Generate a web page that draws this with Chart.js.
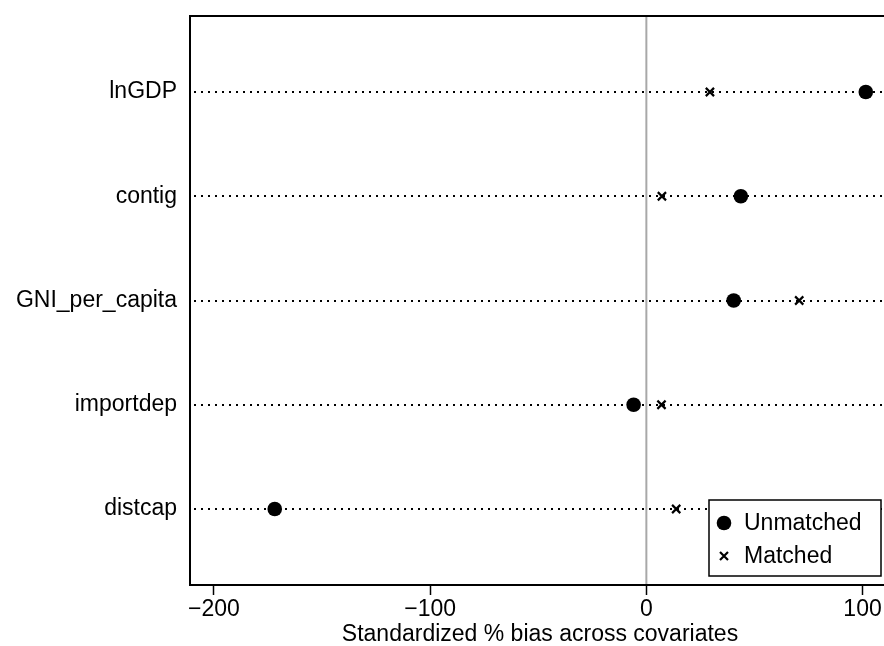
<!DOCTYPE html>
<html>
<head>
<meta charset="utf-8">
<script src="https://cdn.jsdelivr.net/npm/chart.js@4"></script>
<style>
  html, body { margin: 0; padding: 0; background: #fff; overflow: hidden; }
  #wrap { width: 884px; height: 646px; position: relative; overflow: hidden; }
  #biasChart { position: absolute; left: 0; top: 0; }
</style>
</head>
<body>
<div id="wrap"><canvas id="biasChart" width="892" height="646"></canvas></div>
<script>
// covariates, top to bottom
var covariates = ['lnGDP', 'contig', 'GNI_per_capita', 'importdep', 'distcap'];
// standardized % bias
var unmatched = [101.5, 43.7, 40.4, -5.9, -171.9];
var matched = [29.4, 7.2, 70.7, 7.0, 13.8];
var xTicks = [-200, -100, 0, 100];
var seriesNames = ['Unmatched', 'Matched'];
var axisTitle = 'Standardized % bias across covariates';

var FONT = '"Liberation Sans", Arial, Helvetica, sans-serif';

function toPoints(arr) {
  return arr.map(function (v, i) { return { x: v, y: i + 1 }; });
}

function drawMarker(ctx, style, x, y) {
  ctx.save();
  if (style === 'circle') {
    ctx.fillStyle = '#000';
    ctx.beginPath();
    ctx.arc(x, y, 7.3, 0, Math.PI * 2);
    ctx.fill();
  } else {
    ctx.strokeStyle = '#000';
    ctx.lineWidth = 2.2;
    ctx.beginPath();
    ctx.moveTo(x - 4, y - 4); ctx.lineTo(x + 4, y + 4);
    ctx.moveTo(x + 4, y - 4); ctx.lineTo(x - 4, y + 4);
    ctx.stroke();
  }
  ctx.restore();
}

// dotted row lines, zero line, frame and the boxed legend
var stataLook = {
  id: 'stataLook',
  beforeDatasetsDraw: function (chart) {
    var ctx = chart.ctx, a = chart.chartArea;
    var xs = chart.scales.x, ys = chart.scales.y;
    ctx.save();
    // zero reference line
    var x0 = xs.getPixelForValue(0);
    ctx.strokeStyle = '#a8a8a8';
    ctx.lineWidth = 2;
    ctx.beginPath();
    ctx.moveTo(x0, a.top); ctx.lineTo(x0, a.bottom);
    ctx.stroke();
    // dotted guide per covariate
    ctx.strokeStyle = '#000';
    ctx.lineWidth = 2;
    ctx.setLineDash([2, 5]);
    covariates.forEach(function (c, i) {
      var y = Math.round(ys.getPixelForValue(i + 1));
      ctx.beginPath();
      ctx.moveTo(a.left + 4, y); ctx.lineTo(a.right, y);
      ctx.stroke();
    });
    ctx.restore();
  },
  afterDraw: function (chart) {
    var ctx = chart.ctx, a = chart.chartArea;
    ctx.save();
    // plot frame, right side is cut off in the original
    ctx.strokeStyle = '#000';
    ctx.lineWidth = 2;
    ctx.beginPath();
    ctx.moveTo(a.right, a.top);
    ctx.lineTo(a.left, a.top);
    ctx.lineTo(a.left, a.bottom);
    ctx.lineTo(a.right, a.bottom);
    ctx.stroke();

    // legend box, lower right of plot region
    var w = 172, h = 76;
    var lx = a.right - 9 - w, ly = a.bottom - 9 - h;
    ctx.fillStyle = '#fff';
    ctx.fillRect(lx, ly, w, h);
    ctx.lineWidth = 1.5;
    ctx.strokeRect(lx, ly, w, h);
    ctx.font = '23px ' + FONT;
    ctx.fillStyle = '#000';
    ctx.textBaseline = 'middle';
    var styles = ['circle', 'crossRot'];
    seriesNames.forEach(function (name, i) {
      var cy = ly + 23 + i * 33;
      drawMarker(ctx, styles[i], lx + 15, cy);
      ctx.fillText(name, lx + 35, cy + 1);
    });
    ctx.restore();
  }
};

new Chart(document.getElementById('biasChart'), {
  type: 'scatter',
  data: {
    datasets: [{
      label: seriesNames[0],
      data: toPoints(unmatched),
      pointStyle: 'circle',
      pointRadius: 7.3,
      pointHoverRadius: 7.3,
      backgroundColor: '#000',
      borderColor: '#000',
      borderWidth: 0
    }, {
      label: seriesNames[1],
      data: toPoints(matched),
      pointStyle: 'crossRot',
      pointRadius: 5.8,
      pointHoverRadius: 5.8,
      backgroundColor: '#000',
      borderColor: '#000',
      borderWidth: 2.2
    }]
  },
  options: {
    responsive: false,
    animation: false,
    devicePixelRatio: 1,
    layout: { autoPadding: false, padding: { top: 16, right: 2, left: 0, bottom: 0 } },
    plugins: {
      legend: { display: false },
      tooltip: { enabled: false }
    },
    scales: {
      x: {
        type: 'linear',
        min: -211.1,
        max: 112.7,
        afterBuildTicks: function (scale) {
          scale.ticks = xTicks.map(function (v) { return { value: v }; });
        },
        afterFit: function (scale) {
          scale.height = 61;
          scale.paddingLeft = 0;
          scale.paddingRight = 0;
        },
        grid: { drawOnChartArea: false, drawTicks: true, tickLength: 10, tickWidth: 1.5, tickColor: '#000' },
        border: { display: false },
        ticks: {
          color: '#000',
          padding: 1,
          maxRotation: 0,
          font: { family: FONT, size: 23 },
          callback: function (v) { return String(v).replace('-', '\u2212'); }
        },
        title: {
          display: true,
          text: axisTitle,
          color: '#000',
          font: { family: FONT, size: 23, lineHeight: 1 },
          padding: { top: 0, bottom: 0 }
        }
      },
      y: {
        type: 'linear',
        reverse: true,
        min: 0.271,
        max: 5.729,
        afterBuildTicks: function (scale) {
          scale.ticks = covariates.map(function (c, i) { return { value: i + 1 }; });
        },
        afterFit: function (scale) {
          scale.width = 190;
          scale.paddingTop = 0;
          scale.paddingBottom = 0;
        },
        grid: { display: false, drawTicks: false, tickLength: 0 },
        border: { display: false },
        ticks: {
          color: '#000',
          padding: 13,
          font: { family: FONT, size: 23 },
          callback: function (v) { return covariates[v - 1]; }
        }
      }
    }
  },
  plugins: [stataLook]
});
</script>
</body>
</html>
